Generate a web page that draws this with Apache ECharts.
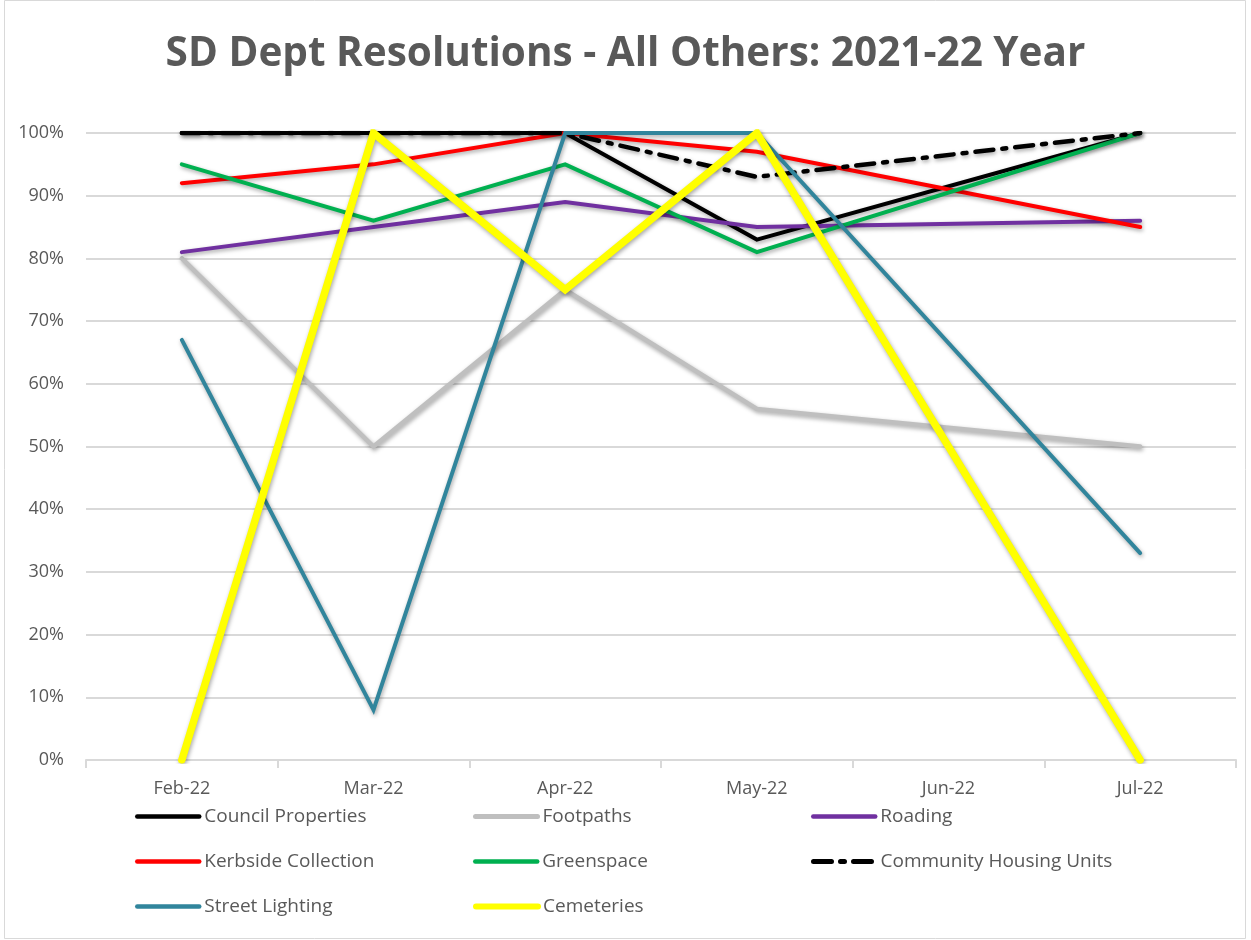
<!DOCTYPE html>
<html><head><meta charset="utf-8">
<script src="https://cdn.jsdelivr.net/npm/echarts@6/dist/echarts.min.js"></script>
<style>html,body{margin:0;padding:0;background:#fff}#c{width:1251px;height:940px}</style>
</head><body><div id="c"></div>
<script>
const categories = ['Feb-22','Mar-22','Apr-22','May-22','Jun-22','Jul-22'];
const yTicks = [0,10,20,30,40,50,60,70,80,90,100];
const councilProperties = [100,100,100,83,null,100];
const footpaths = [80,50,75,56,null,50];
const roading = [81,85,89,85,null,86];
const kerbside = [92,95,100,97,null,85];
const greenspace = [95,86,95,81,null,100];
const communityHousing = [100,100,100,93,null,100];
const streetLighting = [67,8,100,100,null,33];
const cemeteries = [0,100,75,100,null,0];

const seriesDefs = [
  {name:'Council Properties', data:councilProperties, color:'#000000', width:4},
  {name:'Footpaths', data:footpaths, color:'#bfbfbf', width:4.5},
  {name:'Roading', data:roading, color:'#7030a0', width:4},
  {name:'Kerbside Collection', data:kerbside, color:'#ff0000', width:4},
  {name:'Greenspace', data:greenspace, color:'#00b050', width:4},
  {name:'Community Housing Units', data:communityHousing, color:'#000000', width:4.5, type:[18,9,4,9]},
  {name:'Street Lighting', data:streetLighting, color:'#31859c', width:4},
  {name:'Cemeteries', data:cemeteries, color:'#ffff00', width:7.5}
];
const legendPos = [[130,802],[468,802],[806,802],[130,847],[468,847],[806,847],[130,892],[468,892]];

const chart = echarts.init(document.getElementById('c'));
const FONT = 'Open Sans';
chart.setOption({
  backgroundColor:'#fff',
  animation:false,
  title:{text:'SD Dept Resolutions - All Others: 2021-22 Year', left:'center', top:29,
    textStyle:{fontFamily:FONT, fontSize:40.5, fontWeight:'bold', color:'#595959'}},
  graphic:[{type:'rect', shape:{x:4.5,y:0.5,width:1241,height:938}, style:{fill:'none', stroke:'#d9d9d9', lineWidth:1}, silent:true}],
  legend: seriesDefs.map((s,i)=>({
    show:true, orient:'horizontal',
    data:[s.name], left:legendPos[i][0], top:legendPos[i][1], itemWidth:62, itemHeight:16, itemGap:0,
    selectedMode:false,
    itemStyle:{opacity:0},
    lineStyle:{width:Math.min(s.width+0.5,6), shadowBlur:0, shadowOffsetX:0, shadowOffsetY:0, shadowColor:'transparent'},
    textStyle:{fontFamily:FONT, fontSize:19, color:'#595959'}
  })),
  grid:{left:86, right:15, top:133, bottom:180, containLabel:false},
  xAxis:{type:'category', data:categories, boundaryGap:true,
    axisLine:{lineStyle:{color:'#d9d9d9', width:2}},
    axisTick:{show:true, length:8, lineStyle:{color:'#d9d9d9', width:2}},
    axisLabel:{fontFamily:FONT, fontSize:18, color:'#595959', margin:20}},
  yAxis:{type:'value', min:0, max:100, interval:10,
    axisLine:{show:false}, axisTick:{show:false},
    splitLine:{lineStyle:{color:'#d9d9d9', width:2}},
    axisLabel:{fontFamily:FONT, fontSize:18, color:'#595959', margin:22,
      formatter:v=> yTicks.includes(v) ? v+'%' : ''}},
  series: seriesDefs.map(s=>({
    name:s.name, type:'line', data:s.data, connectNulls:true, showSymbol:false, symbol:'none',
    color:s.color,
    lineStyle:{color:s.color, width:s.width, type:s.type||'solid', cap:'round', join:'miter',
      shadowColor:'rgba(0,0,0,0.35)', shadowBlur:4, shadowOffsetX:1, shadowOffsetY:2},
    itemStyle:{color:s.color}
  }))
});
</script></body></html>
